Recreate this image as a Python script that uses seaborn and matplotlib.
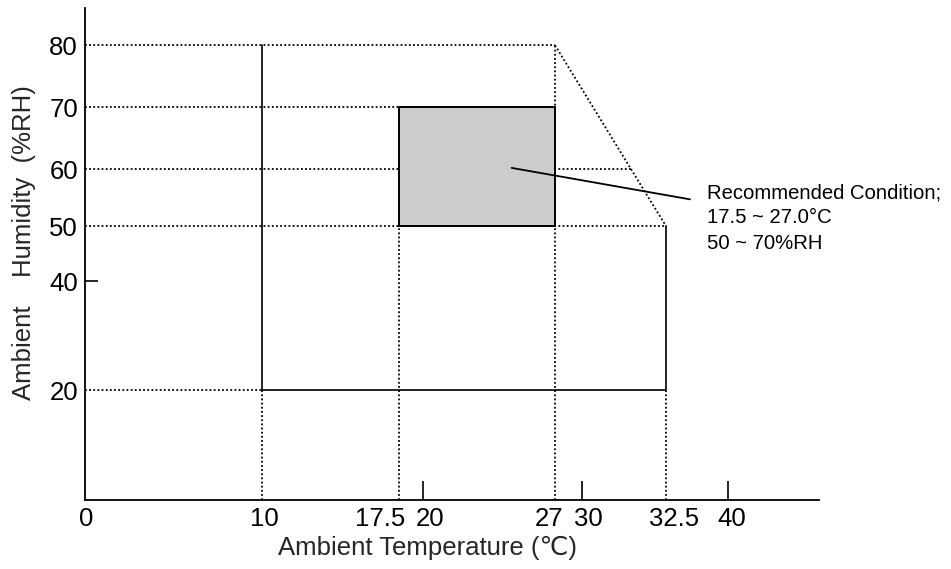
import numpy as np
import matplotlib
matplotlib.use("Agg")
import matplotlib.pyplot as plt
import matplotlib.transforms as mtransforms
from matplotlib.patches import Rectangle
import seaborn as sns

# ---------------- data ----------------
temp_ticks = [0, 10, 17.5, 20, 27, 30, 32.5, 40]
temp_tick_labels = ["0", "10", "17.5", "20", "27", "30", "32.5", "40"]
temp_tickmarks = [20, 30, 40]
hum_ticks = [20, 40, 50, 60, 70, 80]
hum_tick_labels = ["20", "40", "50", "60", "70", "80"]
hum_tickmarks = [40]

# operating envelope: solid part and dotted (sloped) part
env_solid_temp = [10, 10, 32.5, 32.5]
env_solid_hum = [80, 20, 20, 50]
env_dotted_temp = [27, 32.5]
env_dotted_hum = [80, 50]

# recommended condition box
rec_temp = [17.5, 27.0]
rec_hum = [50, 70]

# dotted guide lines
guide_h_levels = [80, 70, 60, 50, 20]
guide_h_ends = [27, 27, 31.5, 32.5, 10]
guide_v_levels = [10, 17.5, 27, 32.5]
guide_v_ends = [20, 50, 80, 20]

# leader line of the annotation
leader_temp = [24.7, 35.4]
leader_hum = [60.2, 54.7]
note_lines = ["Recommended Condition;", "17.5 ~ 27.0°C", "50 ~ 70%RH"]

# ---------------- style / layout ----------------
sns.set_style("white")
plt.rcParams["font.family"] = ["Liberation Sans", "DejaVu Sans"]

# schematic (non-uniform) axis scales
x_anchor = [-10, 0, 10, 17.5, 20, 27, 30, 32.5, 40, 50]
x_pos = [-177, 0, 177, 314, 338, 470, 497, 581, 643, 783]
y_anchor = [-10, 0, 20, 40, 50, 60, 70, 80, 100]
y_pos = [-55, 0, 110, 219, 274, 331, 393, 455, 579]

def fx(v):
    return np.interp(v, x_anchor, x_pos)
def fx_inv(v):
    return np.interp(v, x_pos, x_anchor)
def fy(v):
    return np.interp(v, y_anchor, y_pos)
def fy_inv(v):
    return np.interp(v, y_pos, y_anchor)

W, H = 951, 569
fig = plt.figure(figsize=(W / 100, H / 100), dpi=100)
ax = fig.add_axes([85 / W, (H - 500) / H, (819 - 85) / W, (500 - 8) / H])
ax.set_xscale("function", functions=(fx, fx_inv))
ax.set_yscale("function", functions=(fy, fy_inv))
ax.set_xlim(0, 46.5)
ax.set_ylim(0, 86)

lw = 1.2
dot = dict(color="black", lw=1.3, ls=(0, (1, 1.3)), zorder=1)

for lev, end in zip(guide_h_levels, guide_h_ends):
    ax.plot([0, end], [lev, lev], **dot)
for lev, end in zip(guide_v_levels, guide_v_ends):
    ax.plot([lev, lev], [0, end], **dot)
ax.plot(env_dotted_temp, env_dotted_hum, **dot)

sns.lineplot(x=env_solid_temp, y=env_solid_hum, sort=False, estimator=None,
             color="black", lw=lw, ax=ax, zorder=3)

ax.add_patch(Rectangle((rec_temp[0], rec_hum[0]), rec_temp[1] - rec_temp[0],
                       rec_hum[1] - rec_hum[0], facecolor="#cccccc",
                       edgecolor="black", lw=1.4, zorder=2))

ax.plot(leader_temp, leader_hum, color="black", lw=1.3, zorder=4)
for i, line in enumerate(note_lines):
    ax.annotate(line, xy=(37.45, 54.9), xycoords="data",
                xytext=(0, -18.2 * i), textcoords="offset points",
                fontsize=14.6, va="baseline", ha="left", color="black")

# spines
for s in ["top", "right"]:
    ax.spines[s].set_visible(False)
for s in ["left", "bottom"]:
    ax.spines[s].set_color("black")
    ax.spines[s].set_linewidth(1.3)

# tick labels (major, no marks) and tick marks (minor, inward)
ax.xaxis.remove_overlapping_locs = False
ax.yaxis.remove_overlapping_locs = False
ax.set_xticks(temp_ticks)
ax.set_xticklabels(temp_tick_labels)
ax.set_yticks(hum_ticks)
ax.set_yticklabels(hum_tick_labels)
ax.set_xticks(temp_tickmarks, minor=True)
ax.set_yticks(hum_tickmarks, minor=True)
ax.tick_params(axis="both", which="major", length=0, labelsize=18.5, colors="black")
ax.tick_params(axis="x", which="major", pad=5)
ax.tick_params(axis="y", which="major", pad=5)
ax.tick_params(axis="x", which="minor", direction="in", length=13.5, width=1.2,
               bottom=True, color="black", labelbottom=False)
ax.tick_params(axis="y", which="minor", direction="in", length=9, width=1.2,
               left=True, color="black", labelleft=False)

# small horizontal nudges of crowded x tick labels (pixels)
nudges = [1, 2, -19, 7, -6, 6, 8, 4]
for lab, dx in zip(ax.get_xticklabels(), nudges):
    lab.set_transform(lab.get_transform() +
                      mtransforms.ScaledTranslation(dx / 100, 0, fig.dpi_scale_trans))

ax.set_xlabel("Ambient Temperature (℃)", fontsize=18.5)
ax.xaxis.set_label_coords((427 - 85) / 734, (500 - 536) / 492)
ax.set_ylabel("Ambient    Humidity  (%RH)", fontsize=18.5)
ax.yaxis.set_label_coords((36 - 85) / 734, (500 - 243) / 492)

fig.savefig("out.png", dpi=100)
